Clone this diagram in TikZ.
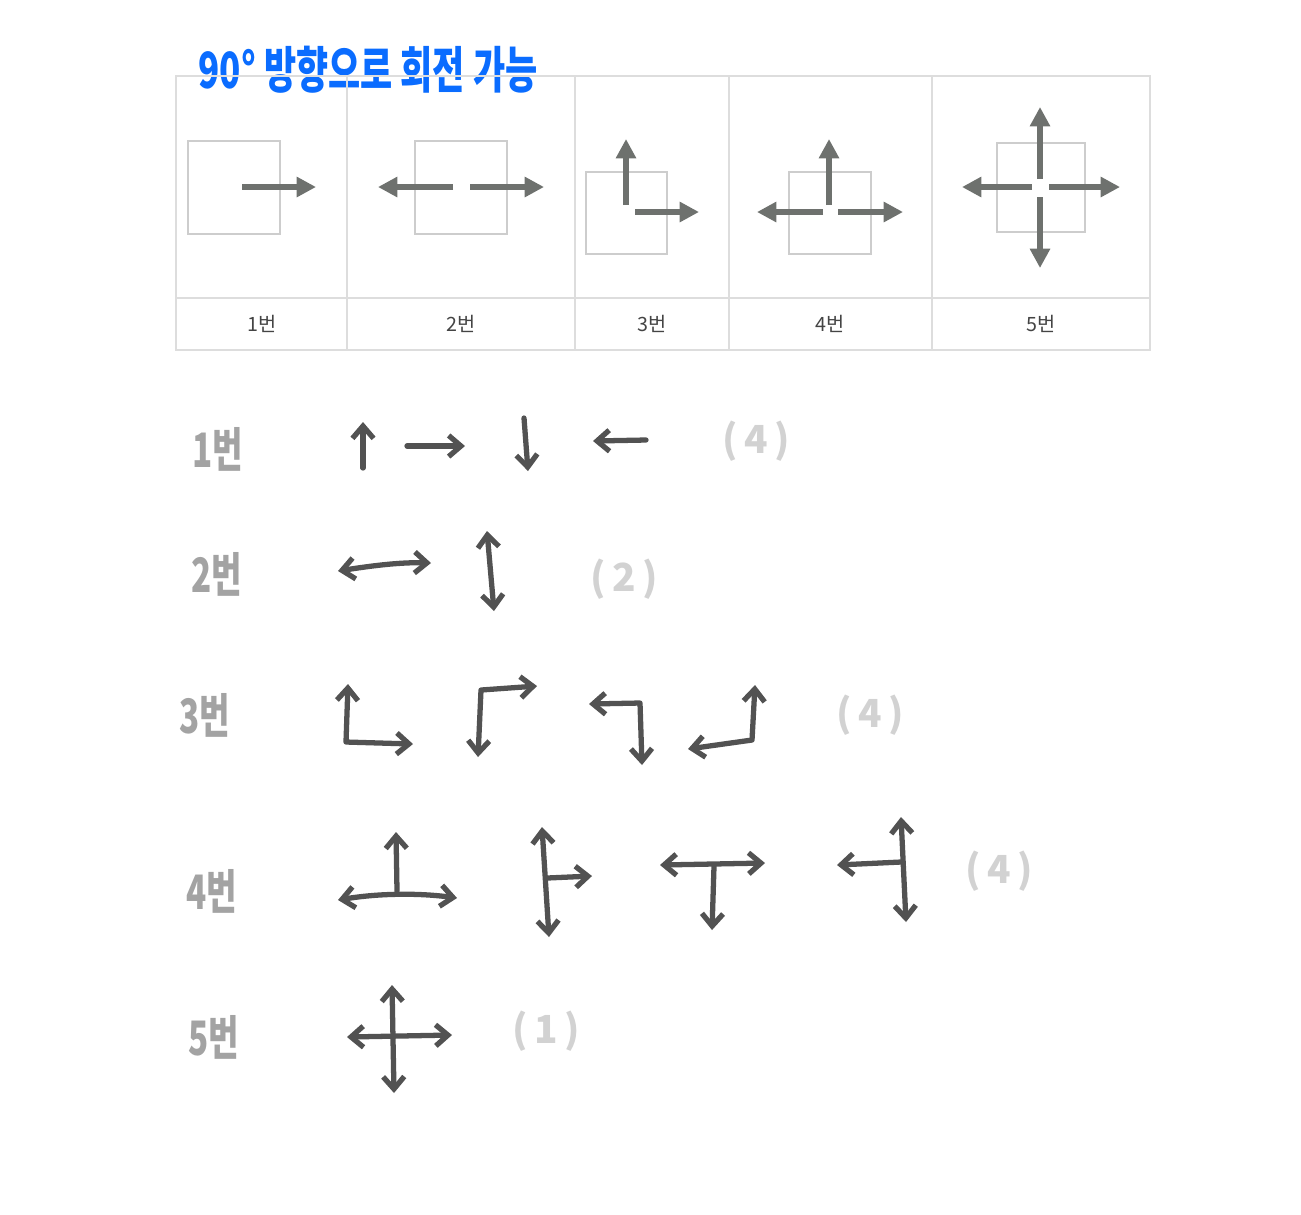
\documentclass[tikz,border=0pt]{standalone}
\usepackage{fontspec}
\usepackage{tikz}
\usetikzlibrary{arrows.meta}

\newfontfamily\krfont{Noto Sans CJK KR}
\newfontfamily\handfont[FakeStretch=0.7]{Noto Sans CJK KR}

\definecolor{titleblue}{RGB}{10,108,255}
\definecolor{gridgray}{RGB}{221,221,221}
\definecolor{boxgray}{RGB}{205,205,205}
\definecolor{tablearrow}{RGB}{110,113,110}
\definecolor{tabletext}{RGB}{68,68,68}
\definecolor{handgray}{RGB}{82,82,82}
\definecolor{numgray}{RGB}{163,163,163}
\definecolor{countgray}{RGB}{210,210,210}

\tikzset{hb/.tip={Straight Barb[length=3.5pt,width=6pt]}}

\begin{document}
\begin{tikzpicture}[x=0.01cm, y=-0.01cm,
    grid/.style={draw=gridgray, line width=0.45pt},
    box/.style={draw=boxgray, line width=0.3pt},
    bigarrow/.style={draw=tablearrow, line width=1.7pt, -{Triangle[length=5.5pt,width=5.5pt]}},
    hand/.style={draw=handgray, line width=1.5pt, line cap=round, line join=round},
    cell/.style={font=\krfont\fontsize{5.6}{6}\selectfont, text=tabletext},
    num/.style={font=\handfont\bfseries\fontsize{13.5}{14}\selectfont, text=numgray},
    count/.style={font=\krfont\bfseries\fontsize{11}{12}\selectfont, text=countgray}]
    \useasboundingbox (0,0) rectangle (1301,1214);

    % title
    \node[font=\handfont\bfseries\fontsize{14.2}{15}\selectfont, text=titleblue] (title) at (368,70) {90° 방향으로 회전 가능};

    % table
    \draw[grid] (176,76) rectangle (1150,350);
    \draw[grid] (176,298) -- (1150,298);
    \foreach \x in {347,575,729,932}
        \draw[grid] (\x,76) -- (\x,350);
    \foreach \x/\n in {262/1,461/2,652/3,830/4,1041/5}
        \node[cell] (t\n) at (\x,324) {{\n}번};

    % 1
    \draw[box] (188,141) rectangle (280,234);
    \draw[bigarrow] (242,187) -- (316,187);
    % 2
    \draw[box] (415,141) rectangle (507,234);
    \draw[bigarrow] (453,187) -- (378,187);
    \draw[bigarrow] (470,187) -- (544,187);
    % 3
    \draw[box] (586,172) rectangle (667,254);
    \draw[bigarrow] (626,205) -- (626,139);
    \draw[bigarrow] (635,212) -- (699,212);
    % 4
    \draw[box] (789,172) rectangle (871,254);
    \draw[bigarrow] (829,205) -- (829,139);
    \draw[bigarrow] (823,212) -- (757,212);
    \draw[bigarrow] (838,212) -- (903,212);
    % 5
    \draw[box] (997,143) rectangle (1085,232);
    \draw[bigarrow] (1040,179) -- (1040,107);
    \draw[bigarrow] (1040,197) -- (1040,268);
    \draw[bigarrow] (1032,187) -- (962,187);
    \draw[bigarrow] (1049,187) -- (1120,187);

    % hand drawn rows
    \foreach \y/\n/\x in {449/1/218, 574/2/217, 715/3/205, 891/4/212, 1037/5/214}
        \node[num] (r\n) at (\x,\y) {{\n}번};
    \node[count] (c1) at (756,441) {(\,4\,)};
    \node[count] (c2) at (624,579) {(\,2\,)};
    \node[count] (c3) at (870,715) {(\,4\,)};
    \node[count] (c4) at (999,871) {(\,4\,)};
    \node[count] (c5) at (546,1031) {(\,1\,)};

    % row 1
    \draw[hand,-hb] (363,468) -- (363,422);
    \draw[hand,-hb] (407,446) -- (465,446);
    \draw[hand,-hb] (524,418) -- (528,471);
    \draw[hand,-hb] (646,440) -- (593,441);

    % row 2
    \draw[hand,hb-hb] (338,571) .. controls (370,566) and (400,562) .. (431,563);
    \draw[hand,hb-hb] (487,531) -- (494,611);

    % row 3
    \draw[hand,hb-hb] (348,684) -- (346,742) -- (413,744);
    \draw[hand,hb-hb] (537,686) -- (481,690) -- (478,757);
    \draw[hand,hb-hb] (589,704) -- (640,703) -- (642,765);
    \draw[hand,hb-hb] (755,685) -- (752,740) -- (688,749);

    % row 4
    \draw[hand,hb-hb] (338,900) .. controls (380,893) and (420,893) .. (457,898);
    \draw[hand,-hb] (397,891) -- (396,832);
    \draw[hand,hb-hb] (542,827) -- (549,937);
    \draw[hand,-hb] (547,878) -- (592,876);
    \draw[hand,hb-hb] (660,865) -- (765,863);
    \draw[hand,-hb] (714,866) -- (712,930);
    \draw[hand,hb-hb] (901,817) -- (906,922);
    \draw[hand,-hb] (901,862) -- (837,865);

    % row 5
    \draw[hand,hb-hb] (347,1037) -- (452,1035);
    \draw[hand,hb-hb] (392,985) -- (394,1093);

\end{tikzpicture}
\end{document}
